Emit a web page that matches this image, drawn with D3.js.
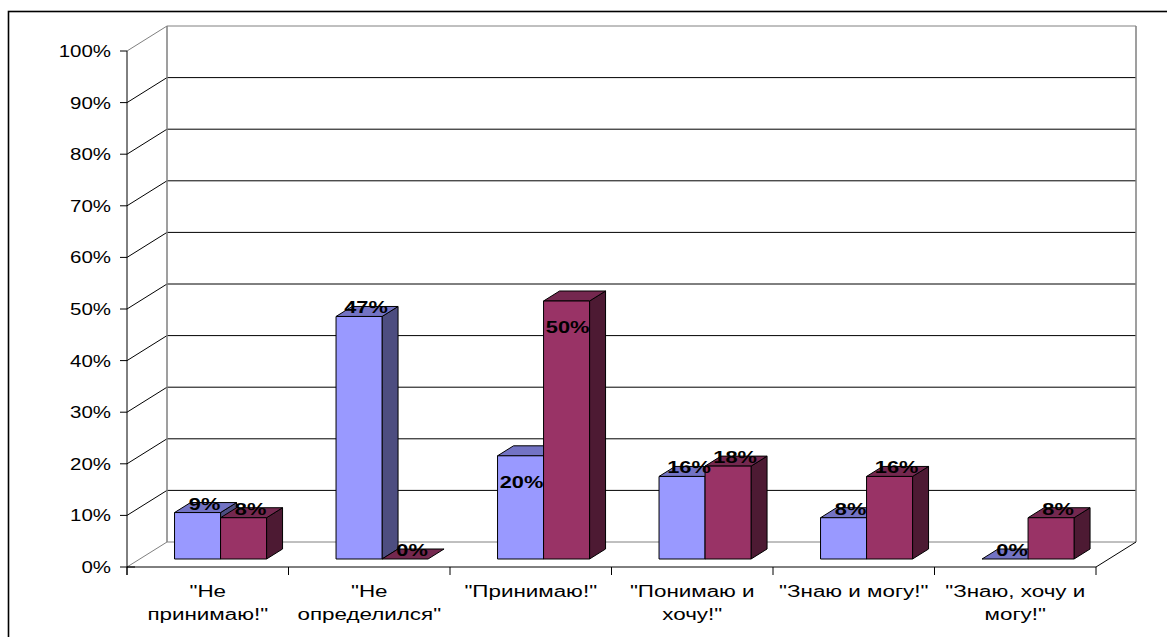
<!DOCTYPE html>
<html>
<head>
<meta charset="utf-8">
<script src="https://cdn.jsdelivr.net/npm/d3@7/dist/d3.min.js"></script>
<style>
  html, body { margin: 0; padding: 0; background: #fff; }
  svg { display: block; font-family: Arial, "Liberation Sans", sans-serif; }
</style>
</head>
<body>
<div id="chart"></div>
<script>
// chart data
const categories = ['"Не\nпринимаю!"', '"Не\nопределился"', '"Принимаю!"', '"Понимаю и\nхочу!"', '"Знаю и могу!"', '"Знаю, хочу и\nмогу!"'];
const seriesA = [9, 47, 20, 16, 8, 0];
const seriesB = [8, 0, 50, 18, 16, 8];
const yTicks = [0, 10, 20, 30, 40, 50, 60, 70, 80, 90, 100];

const W = 1167, H = 637;
// the original picture is stretched sideways, so text is too
const textStretch = 1.28;
const catStretch = 1.4;

// 3D box: front plane and back wall offset
const depth = { dx: 40, dy: -25 };
const barDepth = { t0: 0.32, t1: 0.72 };

const colors = [
    { front: '#9999FF', top: '#7373C4', side: '#4D4D80' },
    { front: '#993366', top: '#74284F', side: '#4D1A33' }
];

const svg = d3.select('#chart').append('svg')
    .attr('width', W)
    .attr('height', H);

// outer frame (runs off the right and bottom)
svg.append('rect')
    .attr('x', 8.5).attr('y', 11.5)
    .attr('width', 1300).attr('height', 800)
    .attr('fill', 'none')
    .attr('stroke', '#000')
    .attr('stroke-width', 1.6);

const x = d3.scaleBand()
    .domain(d3.range(categories.length))
    .range([127, 1096])
    .padding(0);

const xSeries = d3.scaleBand()
    .domain([0, 1])
    .range([0, x.bandwidth()])
    .paddingInner(0)
    .paddingOuter(0.755);

const y = d3.scaleLinear()
    .domain([0, 100])
    .range([567, 51]);

// project a front-plane point into depth t (0 = front, 1 = back wall)
const proj = (px, py, t) => [px + t * depth.dx, py + t * depth.dy];

const x0 = x.range()[0], x1 = x.range()[1];
const g = svg.append('g');

// back wall gridlines
yTicks.forEach(v => {
    const a = proj(x0, y(v), 1), b = proj(x1, y(v), 1);
    g.append('line')
        .attr('x1', a[0]).attr('y1', a[1])
        .attr('x2', b[0]).attr('y2', b[1])
        .attr('stroke', (v === 100 || v === 0) ? '#808080' : '#000')
        .attr('stroke-width', 1);
});

// side wall diagonals
yTicks.forEach(v => {
    const b = proj(x0, y(v), 1);
    g.append('line')
        .attr('x1', x0).attr('y1', y(v))
        .attr('x2', b[0]).attr('y2', b[1])
        .attr('stroke', (v === 100 || v === 0) ? '#808080' : '#000');
});

// back wall edges
const bl = proj(x0, y(0), 1), tl = proj(x0, y(100), 1);
const br = proj(x1, y(0), 1), tr = proj(x1, y(100), 1);
g.append('path')
    .attr('d', `M${tl[0]},${tl[1]}L${bl[0]},${bl[1]}M${tr[0]},${tr[1]}L${br[0]},${br[1]}`)
    .attr('stroke', '#808080')
    .attr('stroke-width', 1.5)
    .attr('fill', 'none');

// floor right diagonal
g.append('line')
    .attr('x1', x1).attr('y1', y(0))
    .attr('x2', br[0]).attr('y2', br[1])
    .attr('stroke', '#000');

// y axis
g.append('line')
    .attr('x1', x0).attr('y1', y(100))
    .attr('x2', x0).attr('y2', y(0) + 8)
    .attr('stroke', '#000');
yTicks.forEach(v => {
    g.append('line')
        .attr('x1', x0 - 7).attr('y1', y(v))
        .attr('x2', v === 0 ? x0 + 8 : x0).attr('y2', y(v))
        .attr('stroke', '#000');
    g.append('text')
        .attr('transform', `translate(111,${y(v) + 6}) scale(${textStretch},1)`)
        .attr('text-anchor', 'end')
        .attr('font-size', 16)
        .attr('fill', '#000')
        .text(v + '%');
});

// x axis
g.append('line')
    .attr('x1', x0).attr('y1', y(0))
    .attr('x2', x1).attr('y2', y(0))
    .attr('stroke', '#000');
d3.range(categories.length + 1).forEach(i => {
    const px = x0 + i * x.bandwidth();
    g.append('line')
        .attr('x1', px).attr('y1', y(0))
        .attr('x2', px).attr('y2', y(0) + 8)
        .attr('stroke', '#000');
});
categories.forEach((c, i) => {
    const t = g.append('text')
        .attr('transform', `translate(${x(i) + x.bandwidth() / 2},597) scale(${catStretch},1)`)
        .attr('text-anchor', 'middle')
        .attr('font-size', 16)
        .attr('fill', '#000');
    c.split('\n').forEach((line, k) => {
        t.append('tspan').attr('x', 0).attr('dy', k === 0 ? 0 : 23).text(line);
    });
});

// bars
const bars = [];
categories.forEach((c, i) => {
    [seriesA, seriesB].forEach((s, k) => {
        bars.push({ cat: i, ser: k, value: s[i] });
    });
});

const barLayer = svg.append('g');
bars.forEach(d => {
    const col = colors[d.ser];
    const left = x(d.cat) + xSeries(d.ser);
    const right = left + xSeries.bandwidth();
    const fTL = proj(left, y(d.value), barDepth.t0);
    const fTR = proj(right, y(d.value), barDepth.t0);
    const fBR = proj(right, y(0), barDepth.t0);
    const fBL = proj(left, y(0), barDepth.t0);
    const bTL = proj(left, y(d.value), barDepth.t1);
    const bTR = proj(right, y(d.value), barDepth.t1);
    const bBR = proj(right, y(0), barDepth.t1);
    const poly = pts => 'M' + pts.map(p => p.join(',')).join('L') + 'Z';

    if (d.value > 0) {
        barLayer.append('path').attr('d', poly([fTR, bTR, bBR, fBR]))
            .attr('fill', col.side).attr('stroke', '#000').attr('stroke-linejoin', 'round');
    }
    barLayer.append('path').attr('d', poly([fTL, fTR, bTR, bTL]))
        .attr('fill', col.top).attr('stroke', '#000').attr('stroke-linejoin', 'round');
    if (d.value > 0) {
        barLayer.append('path').attr('d', poly([fTL, fTR, fBR, fBL]))
            .attr('fill', col.front).attr('stroke', '#000').attr('stroke-linejoin', 'round');
    }
});

// data labels (the tallest group has its labels inside the bars)
const insideLabelCats = [2];
const labelLayer = svg.append('g');
bars.forEach(d => {
    const left = x(d.cat) + xSeries(d.ser);
    const cx = left + xSeries.bandwidth() / 2;
    const inside = insideLabelCats.includes(d.cat);
    const tMid = inside ? barDepth.t0 : (barDepth.t0 + barDepth.t1) / 2;
    const p = proj(cx, y(d.value), tMid);
    const base = inside ? p[1] + 32 : p[1] + 2;
    labelLayer.append('text')
        .attr('transform', `translate(${p[0] + (inside ? 1 : -1)},${base}) scale(${textStretch},1)`)
        .attr('text-anchor', 'middle')
        .attr('font-size', 17)
        .attr('font-weight', 'bold')
        .attr('fill', '#000')
        .text(d.value + '%');
});
</script>
</body>
</html>
